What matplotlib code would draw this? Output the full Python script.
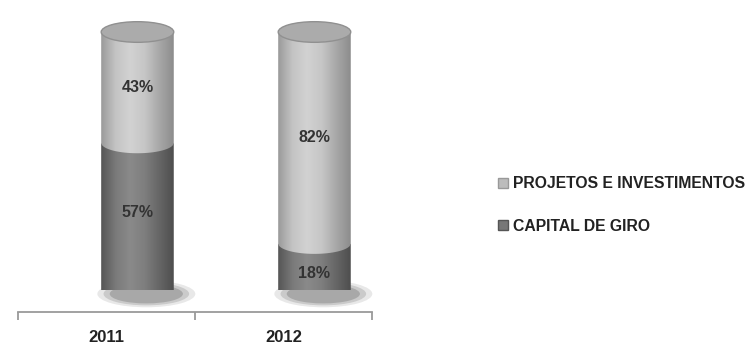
import numpy as np
import matplotlib
matplotlib.use("Agg")
import matplotlib.pyplot as plt
from matplotlib.patches import Ellipse, Patch, PathPatch
from matplotlib.path import Path
from matplotlib.colors import LinearSegmentedColormap

years = ["2011", "2012"]
capital_de_giro = [57, 18]
projetos_investimentos = [43, 82]
series_names = ["PROJETOS E INVESTIMENTOS", "CAPITAL DE GIRO"]

fam = ["Liberation Sans", "DejaVu Sans"]
plt.rcParams['font.family'] = fam

fig = plt.figure(figsize=(7.46, 3.49), dpi=100)
ax = fig.add_axes([18/746, (349-290)/349, (372-18)/746, (290-32)/349])
ax.set_xlim(-0.5, 1.5)
ax.set_ylim(0, 100)

bar_w = 0.41
offset = 0.175
eh = 8.0  # ellipse full height in data units

light_cmap = LinearSegmentedColormap.from_list(
    "light", ["#9a9a9a", "#c4c4c4", "#d2d2d2", "#c6c6c6", "#a8a8a8", "#8c8c8c"])
dark_cmap = LinearSegmentedColormap.from_list(
    "dark", ["#555555", "#7a7a7a", "#8a8a8a", "#7e7e7e", "#666666", "#4e4e4e"])
grad = np.linspace(0, 1, 256).reshape(1, -1)


def face_path(xc, y0, y1, top_curve=0.45):
    x0, x1 = xc - bar_w/2, xc + bar_w/2
    t = np.linspace(np.pi, 2*np.pi, 40)
    bx = xc + bar_w/2*np.cos(t)
    by = y0 + eh/2*np.sin(t)
    tx = xc + bar_w/2*np.cos(t[::-1])
    ty = y1 + top_curve*eh/2*np.sin(t[::-1])
    verts = [(x0, y1), (x0, y0)] + list(zip(bx, by)) + [(x1, y0), (x1, y1)] + list(zip(tx, ty)) + [(x0, y1)]
    return Path(verts, closed=True)


def draw_segment(xc, y0, y1, cmap, z, top_curve):
    p = face_path(xc, y0, y1, top_curve)
    patch = PathPatch(p, facecolor="none", edgecolor="none", transform=ax.transData)
    ax.add_patch(patch)
    im = ax.imshow(grad, cmap=cmap, aspect="auto",
                   extent=[xc - bar_w/2, xc + bar_w/2, y0 - eh/2 - 1, y1 + 1],
                   zorder=z, clip_on=True)
    im.set_clip_path(patch)


for i, yr in enumerate(years):
    xc = i + offset
    cg = capital_de_giro[i]
    pi = projetos_investimentos[i]
    # shadow
    for k, a in enumerate([0.10, 0.15, 0.2]):
        ax.add_patch(Ellipse((xc + 0.05, -1.5), bar_w*1.35 - k*0.07, eh*1.3 - k*1.5,
                             facecolor="#202020", alpha=a, edgecolor="none", zorder=1, clip_on=False))
    draw_segment(xc, 0, cg, dark_cmap, 2, 0.3)
    draw_segment(xc, cg, cg + pi, light_cmap, 3, 1.0)
    # top cap
    ax.add_patch(Ellipse((xc, cg + pi), bar_w, eh, facecolor="#ababab",
                         edgecolor="#909090", lw=1.0, zorder=4, clip_on=False))
    ax.text(xc, cg/2 + (1.5 if i == 0 else -2.5), f"{cg}%", ha="center", va="center",
            fontsize=11.5, fontweight="bold", color="#333333", zorder=5)
    ax.text(xc, cg + pi/2, f"{pi}%", ha="center", va="center",
            fontsize=11.5, fontweight="bold", color="#333333", zorder=5)

ax.set_xlim(-0.5, 1.5)
ax.set_ylim(0, 100)

for s in ["top", "right", "left"]:
    ax.spines[s].set_visible(False)
ax.spines["bottom"].set_position(("outward", 16))
ax.spines["bottom"].set_color("#9a9a9a")
ax.spines["bottom"].set_linewidth(1.3)
ax.set_yticks([])
ax.set_xticks([-0.5, 0.5, 1.5])
ax.set_xticklabels([])
ax.set_xticks([0, 1], minor=True)
ax.set_xticklabels(years, minor=True, fontsize=12, fontweight="bold", color="#222222")
ax.tick_params(axis="x", which="major", direction="out", length=6, color="#9a9a9a", width=1.3)
ax.tick_params(axis="x", which="minor", length=0, pad=13)
ax.patch.set_visible(False)

handles = [Patch(facecolor="#bcbcbc", edgecolor="#999999", label=series_names[0]),
           Patch(facecolor="#777777", edgecolor="#555555", label=series_names[1])]
leg = fig.legend(handles=handles, loc="center left", bbox_to_anchor=(484/746, 1 - 205/349),
                 frameon=False, handlelength=0.6, handleheight=0.6, handletextpad=0.35,
                 labelspacing=1.75, prop={"family": fam, "weight": "bold", "size": 11.3})
for t in leg.get_texts():
    t.set_color("#222222")

fig.savefig("out.png", dpi=100)
